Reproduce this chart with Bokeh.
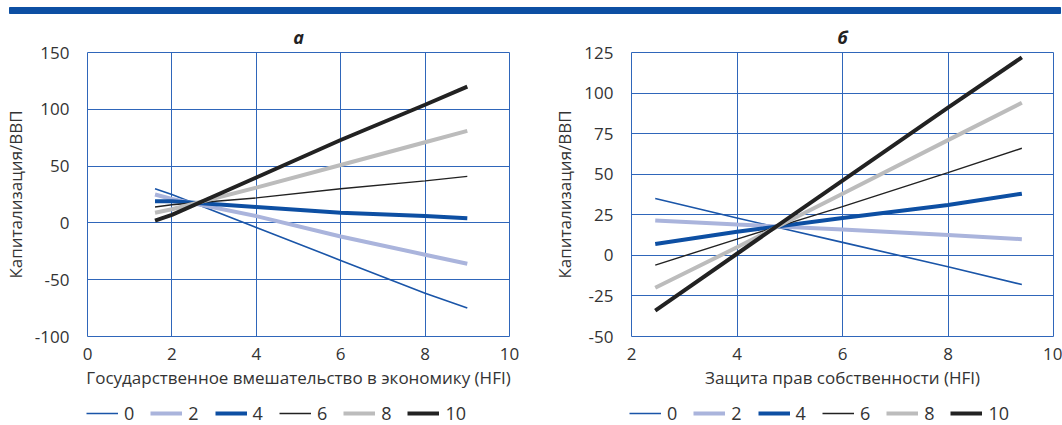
from bokeh.plotting import figure
from bokeh.layouts import column, row
from bokeh.models import Legend, LegendItem, FixedTicker, Range1d, PrintfTickFormatter
from bokeh.embed import file_html
from bokeh.resources import INLINE

# ---- data ----
series_names = ["0", "2", "4", "6", "8", "10"]

# panel a: государственное вмешательство
xa = [1.6, 2.0, 4.0, 6.0, 8.0, 9.0]
ya = {
    "0":  [30, 25, -4, -33, -62, -75],
    "2":  [25, 21, 6, -12, -28, -36],
    "4":  [19, 19, 14, 9, 6, 4],
    "6":  [14, 16, 22, 30, 37, 41],
    "8":  [9, 12, 31, 51, 71, 81],
    "10": [2, 7, 40, 73, 104, 120],
}
# panel b: защита прав собственности
xb = [2.45, 4.0, 6.0, 8.0, 9.4]
yb = {
    "0":  [35, 23, 8, -7, -18],
    "2":  [21.5, 19, 16, 12.5, 10],
    "4":  [7, 14.5, 23, 31, 38],
    "6":  [-6, 10, 30, 51, 66],
    "8":  [-20, 5, 38, 71, 94],
    "10": [-34, 1, 46, 91, 122],
}
xticks_a = [0, 2, 4, 6, 8, 10]
yticks_a = [-100, -50, 0, 50, 100, 150]
xticks_b = [2, 4, 6, 8, 10]
yticks_b = [-50, -25, 0, 25, 50, 75, 100, 125]

colors = {"0": "#1a55a8", "2": "#aab4dc", "4": "#0d4fa3",
          "6": "#222222", "8": "#bcbcbc", "10": "#222222"}
widths = {"0": 1.6, "2": 4, "4": 4, "6": 1.4, "8": 4, "10": 4}

FONT = "Open Sans"
GRID = "#2f66ba"
TXT = "#333333"

band = figure(width=1062, height=16, x_range=Range1d(0, 1062), y_range=Range1d(0, 16),
              toolbar_location=None, output_backend="svg", min_border=0)
band.axis.visible = False
band.grid.visible = False
band.outline_line_color = None
band.quad(left=9, right=1060, bottom=3, top=9, color="#0d4fa3")


def panel(title, xs, ys, xr, yr, xt, yt, xlabel, bl, br):
    p = figure(frame_width=422, frame_height=284, x_range=Range1d(*xr), y_range=Range1d(*yr),
               toolbar_location=None, output_backend="svg",
               min_border_left=bl, min_border_right=br, min_border_top=36, min_border_bottom=62)
    p.title.text = title
    p.title.align = "center"
    p.title.text_font = FONT
    p.title.text_font_style = "bold italic"
    p.title.text_font_size = "18px"
    p.title.text_color = "#222222"
    p.title.standoff = 8
    p.outline_line_color = GRID
    p.outline_line_width = 1
    for ax in (p.xaxis[0], p.yaxis[0]):
        ax.axis_line_color = None
        ax.major_tick_line_color = None
        ax.minor_tick_line_color = None
        ax.major_label_text_font = FONT
        ax.major_label_text_font_size = "17px"
        ax.major_label_text_color = TXT
        ax.axis_label_text_font = FONT
        ax.axis_label_text_font_size = "17px"
        ax.axis_label_text_font_style = "normal"
        ax.axis_label_text_color = TXT
    p.xaxis.ticker = FixedTicker(ticks=xt)
    p.yaxis.ticker = FixedTicker(ticks=yt)
    p.xaxis.formatter = PrintfTickFormatter(format="%d")
    p.yaxis.formatter = PrintfTickFormatter(format="%d")
    p.xaxis.axis_label = xlabel
    p.yaxis.axis_label = "Капитализация/ВВП"
    p.xaxis.major_label_standoff = 5
    p.yaxis.major_label_standoff = 12
    p.xaxis.axis_label_standoff = 3
    p.yaxis.axis_label_standoff = 5
    p.grid.grid_line_color = GRID
    p.grid.grid_line_width = 1
    p.grid.grid_line_alpha = 1
    for name in series_names:
        p.line(xs, ys[name], line_color=colors[name], line_width=widths[name])
    return p


def legend_fig(width, xoff):
    # legend-only strip: the sample lines lie outside the visible range
    lf = figure(width=width, height=27, x_range=Range1d(0, 1), y_range=Range1d(0, 1),
                toolbar_location=None, output_backend="svg", min_border=0)
    lf.axis.visible = False
    lf.grid.visible = False
    lf.outline_line_color = None
    items = []
    for name in series_names:
        r = lf.line(x=[5, 6], y=[5, 5], line_color=colors[name], line_width=widths[name])
        items.append(LegendItem(label=name, renderers=[r]))
    lg = Legend(items=items, orientation="horizontal", location=(xoff, 0))
    lg.label_text_font = FONT
    lg.label_text_font_size = "18px"
    lg.label_text_color = TXT
    lg.glyph_width = 32
    lg.glyph_height = 14
    lg.label_standoff = 6
    lg.label_height = 14
    lg.label_width = 10
    lg.spacing = 16
    lg.padding = 0
    lg.margin = 0
    lg.border_line_color = None
    lg.background_fill_alpha = 0
    lf.add_layout(lg, "center")
    return lf


pa = panel("а", xa, ya, (0, 10), (-100, 150), xticks_a, yticks_a,
           "Государственное вмешательство в экономику (HFI)", 87, 22)
pb = panel("б", xb, yb, (2, 10), (-50, 125), xticks_b, yticks_b,
           "Защита прав собственности (HFI)", 100, 9)
la = legend_fig(531, 86)
lb = legend_fig(531, 98)

layout = column(band, row(pa, pb), row(la, lb))
open("out.html", "w").write(file_html(layout, INLINE))
